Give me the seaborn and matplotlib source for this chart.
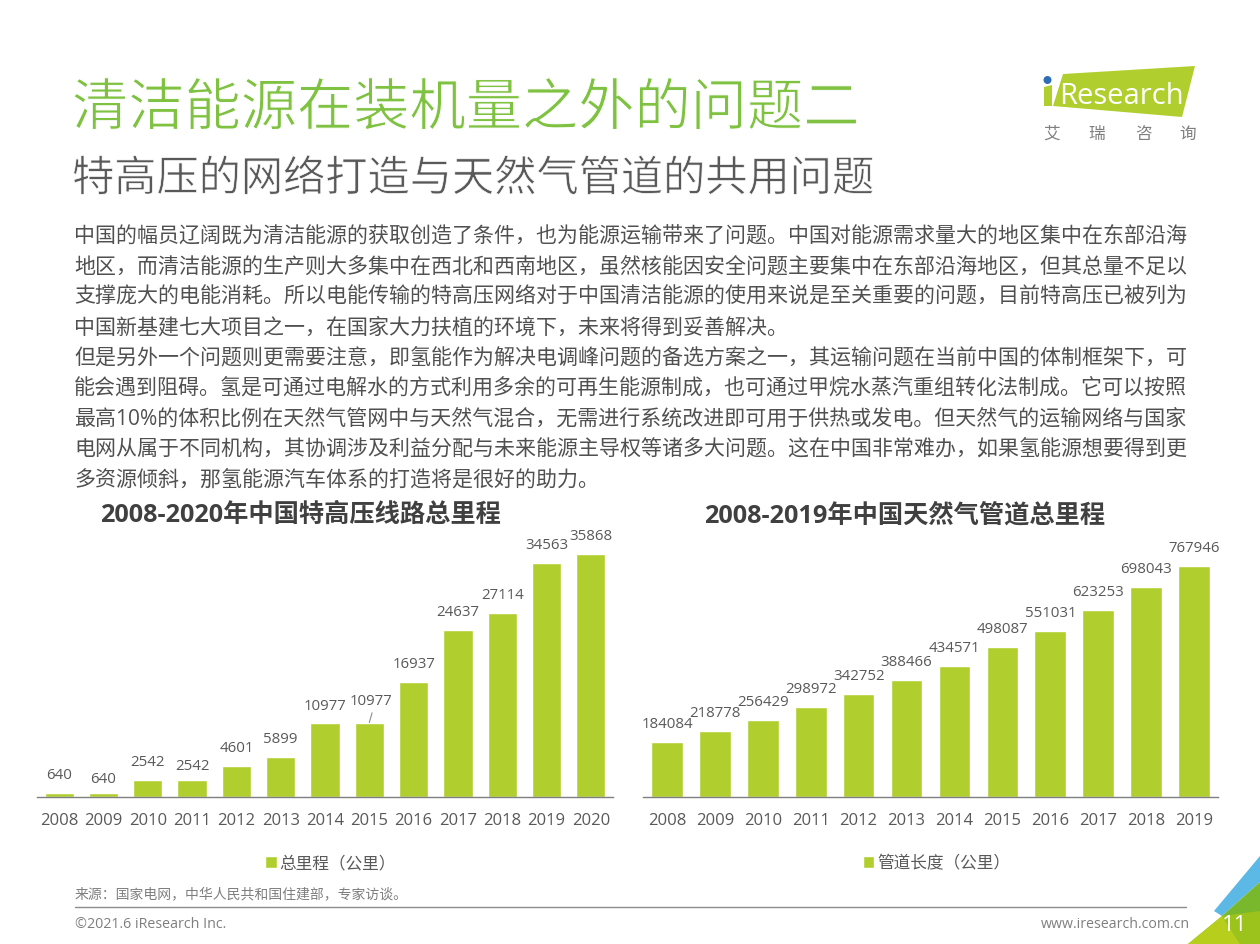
import matplotlib
matplotlib.use('Agg')
import matplotlib.pyplot as plt
import matplotlib.patheffects as pe
from matplotlib.patches import Polygon, Circle
import pandas as pd
import seaborn as sns

# data
years_left = ['2008', '2009', '2010', '2011', '2012', '2013', '2014', '2015', '2016', '2017', '2018', '2019', '2020']
uhv_km = [640, 640, 2542, 2542, 4601, 5899, 10977, 10977, 16937, 24637, 27114, 34563, 35868]
years_right = ['2008', '2009', '2010', '2011', '2012', '2013', '2014', '2015', '2016', '2017', '2018', '2019']
gas_km = [184084, 218778, 256429, 298972, 342752, 388466, 434571, 498087, 551031, 623253, 698043, 767946]

title = '清洁能源在装机量之外的问题二'
subtitle = '特高压的网络打造与天然气管道的共用问题'
body_lines = [
    '中国的幅员辽阔既为清洁能源的获取创造了条件，也为能源运输带来了问题。中国对能源需求量大的地区集中在东部沿海',
    '地区，而清洁能源的生产则大多集中在西北和西南地区，虽然核能因安全问题主要集中在东部沿海地区，但其总量不足以',
    '支撑庞大的电能消耗。所以电能传输的特高压网络对于中国清洁能源的使用来说是至关重要的问题，目前特高压已被列为',
    '中国新基建七大项目之一，在国家大力扶植的环境下，未来将得到妥善解决。',
    '但是另外一个问题则更需要注意，即氢能作为解决电调峰问题的备选方案之一，其运输问题在当前中国的体制框架下，可',
    '能会遇到阻碍。氢是可通过电解水的方式利用多余的可再生能源制成，也可通过甲烷水蒸汽重组转化法制成。它可以按照',
    '最高10%的体积比例在天然气管网中与天然气混合，无需进行系统改进即可用于供热或发电。但天然气的运输网络与国家',
    '电网从属于不同机构，其协调涉及利益分配与未来能源主导权等诸多大问题。这在中国非常难办，如果氢能源想要得到更',
    '多资源倾斜，那氢能源汽车体系的打造将是很好的助力。',
]

W, H = 1260, 945
GREEN = '#b0cf2f'
TEXT = '#595959'

sns.set_theme(style='white')
plt.rcParams['font.family'] = ['Open Sans', 'Noto Sans CJK SC', 'DejaVu Sans']

fig = plt.figure(figsize=(12.6, 9.45), dpi=100)


def px_axes(x0, y0, x1, y1):
    return fig.add_axes([x0 / W, 1 - y1 / H, (x1 - x0) / W, (y1 - y0) / H])


def draw_bars(ax, years, values, name, top):
    df = pd.DataFrame({'year': years, 'value': values})
    sns.barplot(data=df, x='year', y='value', color=GREEN, saturation=1, width=0.66, label=name, ax=ax)
    ax.set_ylim(0, top)
    ax.set_xlim(-0.5, len(years) - 0.5)
    ax.set_xlabel('')
    ax.set_ylabel('')
    ax.set_yticks([])
    sns.despine(ax=ax, left=True)
    ax.spines['bottom'].set_color('#7f7f7f')
    ax.spines['bottom'].set_linewidth(1)
    ax.tick_params(axis='x', length=0, labelsize=12, labelcolor=TEXT, pad=11)
    ax.patch.set_alpha(0)
    ax.legend(loc='center', bbox_to_anchor=(0.51, -0.24), frameon=False, fontsize=12, labelcolor=TEXT,
              handlelength=0.7, handleheight=0.7, handletextpad=0.15, borderpad=0)
    return ax.bar_label(ax.containers[0], labels=[str(v) for v in values], padding=8, fontsize=10.8, color=TEXT)


# left chart, baseline at y=798
ax1 = px_axes(37, 520, 613, 798)
lab1 = draw_bars(ax1, years_left, uhv_km, '总里程（公里）', 41000)
# a few labels sit lower or higher than the rest
lab1[1].xyann = (0, 5)
lab1[3].xyann = (0, 5)
lab1[6].xyann = (0, 7)
lab1[7].xyann = (1, 10.5)
ax1.annotate('', xy=(7, 10977), xytext=(2, 7), textcoords='offset points',
             arrowprops=dict(arrowstyle='-', color='#8c8c8c', lw=0.8, shrinkA=0, shrinkB=0))

# right chart
ax2 = px_axes(643, 520, 1218, 798)
draw_bars(ax2, years_right, gas_km, '管道长度（公里）', 925000)

# page furniture in pixel coordinates
page = fig.add_axes([0, 0, 1, 1], zorder=-1)
page.set_xlim(0, W)
page.set_ylim(H, 0)
page.axis('off')

page.text(72, 126, title, fontsize=40.5, color='#7fc241', va='baseline',
          path_effects=[pe.Stroke(linewidth=0.7, foreground='white')])
page.text(72, 192, subtitle, fontsize=30.4, color='#595959', va='baseline',
          path_effects=[pe.Stroke(linewidth=0.5, foreground='white')])

for i, line in enumerate(body_lines):
    page.text(74, 242 + i * 30.4, line, fontsize=15.1, color='#505050', va='baseline')

page.text(300, 522, '2008-2020年中国特高压线路总里程', fontsize=18.2, fontweight='bold', color='#404040', ha='center', va='baseline')
page.text(905, 522, '2008-2019年中国天然气管道总里程', fontsize=18.2, fontweight='bold', color='#404040', ha='center', va='baseline')

page.text(75, 898, '来源：国家电网，中华人民共和国住建部，专家访谈。', fontsize=10, color='#7f7f7f', va='baseline')
page.plot([75, 1186], [908, 908], color='#8c8c8c', lw=1)
page.text(75, 928, '©2021.6 iResearch Inc.', fontsize=10.3, color='#7f7f7f', va='baseline')
page.text(1190, 928, 'www.iresearch.com.cn', fontsize=10.2, color='#7f7f7f', va='baseline', ha='right')

# logo
page.add_patch(Polygon([(1063, 75), (1195, 67), (1182, 118), (1053, 107)], color=GREEN, lw=0))
page.add_patch(Polygon([(1044, 88), (1052, 86), (1052, 107), (1044, 107)], color=GREEN, lw=0))
page.add_patch(Circle((1047.5, 81), 4, color='#2f6db5', lw=0))
page.text(1121, 104, 'Research', fontsize=21, color='white', ha='center', va='baseline')
for x, ch in zip([1052, 1097, 1143, 1188], '艾瑞咨询'):
    page.text(x, 139, ch, fontsize=12, color='#7f7f7f', ha='center', va='baseline')

# corner decoration
page.add_patch(Polygon([(1214, 912), (1260, 857), (1260, 883), (1222, 917)], color='#5cb8e4', lw=0))
page.add_patch(Polygon([(1222, 917), (1260, 883), (1260, 945), (1188, 945)], color='#79b82c', lw=0))
page.add_patch(Polygon([(1222, 917), (1260, 912), (1260, 945), (1240, 945)], color='#9cc31c', lw=0))
page.add_patch(Polygon([(1188, 945), (1222, 917), (1240, 945)], color='#b7cf1c', lw=0))
page.text(1235, 931, '11', fontsize=16, color='white', ha='center', va='baseline')

fig.savefig('out.png', dpi=100)
